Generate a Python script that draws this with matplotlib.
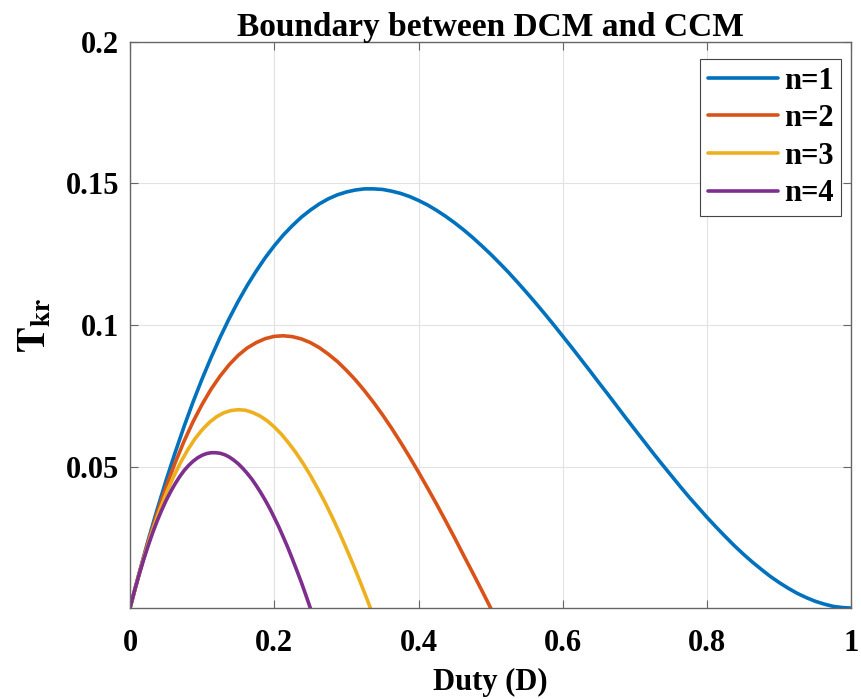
import matplotlib
matplotlib.use("Agg")
import matplotlib.pyplot as plt

# values, per curve (duty D, boundary T_kr)
d_n1 = [0, 0.0125, 0.025, 0.0375, 0.05, 0.0625, 0.075, 0.0875, 0.1, 0.1125, 0.125, 0.1375,
        0.15, 0.1625, 0.175, 0.1875, 0.2, 0.2125, 0.225, 0.2375, 0.25, 0.2625, 0.275,
        0.2875, 0.3, 0.3125, 0.325, 0.3375, 0.35, 0.3625, 0.375, 0.3875, 0.4, 0.4125,
        0.425, 0.4375, 0.45, 0.4625, 0.475, 0.4875, 0.5, 0.5125, 0.525, 0.5375, 0.55,
        0.5625, 0.575, 0.5875, 0.6, 0.6125, 0.625, 0.6375, 0.65, 0.6625, 0.675, 0.6875,
        0.7, 0.7125, 0.725, 0.7375, 0.75, 0.7625, 0.775, 0.7875, 0.8, 0.8125, 0.825,
        0.8375, 0.85, 0.8625, 0.875, 0.8875, 0.9, 0.9125, 0.925, 0.9375, 0.95, 0.9625,
        0.975, 0.9875, 1.0]
t_n1 = [0, 0.0122, 0.0238, 0.0347, 0.0451, 0.0549, 0.0642, 0.0729, 0.0810, 0.0886, 0.0957,
        0.1023, 0.1084, 0.1140, 0.1191, 0.1238, 0.1280, 0.1318, 0.1351, 0.1381, 0.1406,
        0.1428, 0.1446, 0.1460, 0.1470, 0.1477, 0.1481, 0.1481, 0.1479, 0.1473, 0.1465,
        0.1454, 0.1440, 0.1424, 0.1405, 0.1384, 0.1361, 0.1336, 0.1309, 0.1280, 0.1250,
        0.1218, 0.1185, 0.1150, 0.1114, 0.1077, 0.1039, 0.1000, 0.0960, 0.0920, 0.0879,
        0.0838, 0.0796, 0.0755, 0.0713, 0.0671, 0.0630, 0.0589, 0.0548, 0.0508, 0.0469,
        0.0430, 0.0392, 0.0356, 0.0320, 0.0286, 0.0253, 0.0221, 0.0191, 0.0163, 0.0137,
        0.0112, 0.0090, 0.0070, 0.0052, 0.0037, 0.0024, 0.0014, 0.0006, 0.0002, 0]

d_n2 = [0, 0.0125, 0.025, 0.0375, 0.05, 0.0625, 0.075, 0.0875, 0.1, 0.1125, 0.125, 0.1375,
        0.15, 0.1625, 0.175, 0.1875, 0.2, 0.2125, 0.225, 0.2375, 0.25, 0.2625, 0.275,
        0.2875, 0.3, 0.3125, 0.325, 0.3375, 0.35, 0.3625, 0.375, 0.3875, 0.4, 0.4125,
        0.425, 0.4375, 0.45, 0.4625, 0.475, 0.4875, 0.5]
t_n2 = [0, 0.0120, 0.0232, 0.0334, 0.0428, 0.0513, 0.0590, 0.0659, 0.0720, 0.0774, 0.0820,
        0.0860, 0.0893, 0.0919, 0.0938, 0.0952, 0.0960, 0.0962, 0.0959, 0.0951, 0.0938,
        0.0920, 0.0897, 0.0871, 0.0840, 0.0806, 0.0768, 0.0727, 0.0683, 0.0636, 0.0586,
        0.0534, 0.0480, 0.0424, 0.0367, 0.0308, 0.0248, 0.0186, 0.0125, 0.0063, 0]

d_n3 = [0, 0.01, 0.02, 0.03, 0.04, 0.05, 0.06, 0.07, 0.08, 0.09, 0.1, 0.11, 0.12, 0.13,
        0.14, 0.15, 0.16, 0.17, 0.18, 0.19, 0.2, 0.21, 0.22, 0.23, 0.24, 0.25, 0.26,
        0.27, 0.28, 0.29, 0.3, 0.31, 0.32, 0.3333]
t_n3 = [0, 0.0096, 0.0184, 0.0265, 0.0338, 0.0404, 0.0462, 0.0514, 0.0559, 0.0598, 0.0630,
        0.0656, 0.0676, 0.0690, 0.0698, 0.0701, 0.0699, 0.0691, 0.0679, 0.0662, 0.0640,
        0.0614, 0.0583, 0.0549, 0.0511, 0.0469, 0.0423, 0.0375, 0.0323, 0.0268, 0.0210,
        0.0150, 0.0087, 0]

d_n4 = [0, 0.00625, 0.0125, 0.01875, 0.025, 0.03125, 0.0375, 0.04375, 0.05, 0.05625,
        0.0625, 0.06875, 0.075, 0.08125, 0.0875, 0.09375, 0.1, 0.10625, 0.1125, 0.11875,
        0.125, 0.13125, 0.1375, 0.14375, 0.15, 0.15625, 0.1625, 0.16875, 0.175, 0.18125,
        0.1875, 0.19375, 0.2, 0.20625, 0.2125, 0.21875, 0.225, 0.23125, 0.2375, 0.24375,
        0.25]
t_n4 = [0, 0.0061, 0.0117, 0.0170, 0.0219, 0.0265, 0.0307, 0.0345, 0.0380, 0.0411, 0.0439,
        0.0464, 0.0486, 0.0504, 0.0519, 0.0531, 0.0540, 0.0546, 0.0549, 0.0549, 0.0547,
        0.0542, 0.0534, 0.0523, 0.0510, 0.0494, 0.0476, 0.0456, 0.0433, 0.0408, 0.0381,
        0.0352, 0.0320, 0.0287, 0.0251, 0.0214, 0.0174, 0.0133, 0.0091, 0.0046, 0]

labels = ["n=1", "n=2", "n=3", "n=4"]
colors = ["#0072BD", "#D95319", "#EDB120", "#7E2F8E"]

x_ticks = [0, 0.2, 0.4, 0.6, 0.8, 1.0]
x_tick_labels = ["0", "0.2", "0.4", "0.6", "0.8", "1"]
y_ticks = [0.05, 0.1, 0.15, 0.2]
y_tick_labels = ["0.05", "0.1", "0.15", "0.2"]

plt.rcParams["font.family"] = "Liberation Serif"
plt.rcParams["font.weight"] = "bold"
plt.rcParams["mathtext.fontset"] = "stix"

fig = plt.figure(figsize=(8.62, 6.99), dpi=100)
ax = fig.add_axes([0.1508, 0.130, 0.837, 0.810])

for d, t, lab, c in zip([d_n1, d_n2, d_n3, d_n4], [t_n1, t_n2, t_n3, t_n4], labels, colors):
    ax.plot(d, t, color=c, lw=2.6, label=lab, solid_capstyle="round")

ax.set_xlim(0, 1)
ax.set_ylim(0, 0.2)
ax.set_xticks(x_ticks)
ax.set_xticklabels(x_tick_labels)
ax.set_yticks(y_ticks)
ax.set_yticklabels(y_tick_labels)
ax.tick_params(labelsize=22, direction="in", length=6, width=0.8, color="#666666",
               top=True, right=True)
ax.tick_params(axis="x", pad=15)
ax.tick_params(axis="y", pad=8)
for s in ax.spines.values():
    s.set_color("#666666")
    s.set_linewidth(1.0)
ax.grid(True, color="#e2e2e2", lw=0.8)
ax.set_axisbelow(True)

ax.set_title("Boundary between DCM and CCM", fontsize=24, fontweight="bold", pad=4)
ax.set_xlabel("Duty (D)", fontsize=22, fontweight="bold", labelpad=7)
ax.set_ylabel(r"$\mathbf{T_{kr}}$", fontsize=28, labelpad=8)

leg = ax.legend(loc="upper right", fontsize=22, frameon=True, fancybox=False,
                handlelength=2.3, handletextpad=0.2, borderpad=0.25, labelspacing=0.28,
                borderaxespad=0, bbox_to_anchor=(0.986, 0.97))
leg.get_frame().set_edgecolor("#444444")
leg.get_frame().set_linewidth(0.8)
leg.get_frame().set_alpha(1)

fig.savefig("out.png", dpi=100)
